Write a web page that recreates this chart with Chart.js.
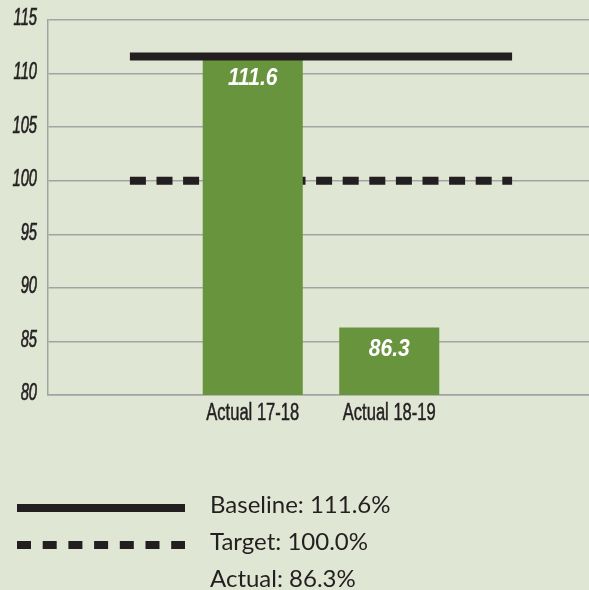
<!DOCTYPE html>
<html>
<head>
<meta charset="utf-8">
<script src="https://cdn.jsdelivr.net/npm/chart.js@4.4.0/dist/chart.umd.min.js"></script>
<style>
html, body { margin: 0; padding: 0; background: #dfe6d3; overflow: hidden; }
</style>
</head>
<body>
<canvas id="grafico" width="594" height="590"></canvas>
<script>
// datos
var categorias = ['', 'Actual 17-18', 'Actual 18-19', '']
var actual = [null, 111.6, 86.3, null]
var baseline = 111.6
var target = 100.0
var tramoLineas = [0.1, 2.9]
var ejeY = { min: 80, max: 115, paso: 5 }
var nombres = ['Baseline', 'Target', 'Actual']

var fuente = "'Liberation Sans', Arial, sans-serif"
var gris = '#a3a3a3'
var negro = '#231f20'

function puntos(valor)
{
    return tramoLineas.map(x => ({ x: x, y: valor }))
}

// texto angosto (no hay fuentes condensadas instaladas)
function textoAngosto(ctx, texto, x, y, factor, grosor)
{
    ctx.save()
    ctx.translate(x, y)
    ctx.scale(factor, 1)
    ctx.fillText(texto, 0, 0)
    if (grosor)
    {
        ctx.lineWidth = grosor
        ctx.strokeStyle = ctx.fillStyle
        ctx.strokeText(texto, 0, 0)
    }
    ctx.restore()
}

// etiquetas de ejes y de barras
var textos = {
    id: 'textos',
    afterDatasetsDraw: function(chart)
    {
        var ctx = chart.ctx
        var sy = chart.scales.y
        var sx = chart.scales.x
        ctx.save()
        ctx.fillStyle = negro
        ctx.textBaseline = 'middle'

        ctx.font = "italic 23px " + fuente
        ctx.textAlign = 'right'
        sy.ticks.forEach(t => textoAngosto(ctx, String(t.value), 37, sy.getPixelForValue(t.value) - 1, 0.64, 0.7))

        ctx.font = "23px " + fuente
        ctx.textAlign = 'center'
        categorias.forEach((c, i) =>
        {
            if (c) textoAngosto(ctx, c, sx.getPixelForValue(i), 414, 0.72, 0.5)
        })

        ctx.fillStyle = '#ffffff'
        ctx.font = "italic bold 24px " + fuente
        var meta = chart.getDatasetMeta(1)
        meta.data.forEach((barra, i) =>
        {
            var v = actual[i]
            if (v == null) return
            textoAngosto(ctx, v.toFixed(1), barra.x, barra.y + 22, 0.88, 0)
        })
        ctx.restore()
    }
}

// leyenda de abajo
var leyenda = {
    id: 'leyenda',
    afterDraw: function(chart)
    {
        var ctx = chart.ctx
        var ultimo = actual.filter(v => v != null).pop()
        var lineas = [
            nombres[0] + ': ' + baseline.toFixed(1) + '%',
            nombres[1] + ': ' + target.toFixed(1) + '%',
            nombres[2] + ': ' + ultimo.toFixed(1) + '%'
        ]
        ctx.save()
        ctx.strokeStyle = negro
        ctx.lineWidth = 8
        ctx.lineCap = 'butt'
        ctx.beginPath()
        ctx.moveTo(17, 508)
        ctx.lineTo(185, 508)
        ctx.stroke()
        ctx.setLineDash([14, 11.7])
        ctx.beginPath()
        ctx.moveTo(17, 545)
        ctx.lineTo(185, 545)
        ctx.stroke()
        ctx.setLineDash([])
        ctx.fillStyle = negro
        ctx.font = "24px Lato, sans-serif"
        ctx.textAlign = 'left'
        ctx.textBaseline = 'alphabetic'
        lineas.forEach((t, i) => ctx.fillText(t, 210, 513 + i * 37))
        ctx.restore()
    }
}

var grafico = new Chart(document.getElementById('grafico'),
    {
        type: 'bar',
        data:
            {
                labels: categorias,
                datasets:
                    [{
                        type: 'line',
                        label: nombres[0],
                        data: puntos(baseline),
                        xAxisID: 'x2',
                        borderColor: negro,
                        borderWidth: 8,
                        pointRadius: 0,
                        order: 0
                    },
                    {
                        label: nombres[2],
                        data: actual,
                        backgroundColor: '#68943e',
                        barPercentage: 0.733,
                        categoryPercentage: 1,
                        grouped: false,
                        order: 1
                    },
                    {
                        type: 'line',
                        label: nombres[1],
                        data: puntos(target),
                        xAxisID: 'x2',
                        borderColor: negro,
                        borderWidth: 8,
                        borderDash: [16, 10.6],
                        pointRadius: 0,
                        order: 2
                    }]
            },
        options:
            {
                responsive: false,
                animation: false,
                layout: { padding: { top: 20, left: 0, right: 0, bottom: 0 } },
                plugins:
                    {
                        legend: { display: false },
                        tooltip: { enabled: false }
                    },
                scales:
                    {
                        x:
                            {
                                grid: { display: false, drawTicks: false },
                                border: { color: gris, width: 1.5 },
                                ticks: { display: false },
                                afterFit: function(s) { s.height = 195 }
                            },
                        x2:
                            {
                                type: 'linear',
                                min: -0.5,
                                max: 3.5,
                                offset: false,
                                display: false
                            },
                        y:
                            {
                                min: ejeY.min,
                                max: ejeY.max,
                                ticks: { stepSize: ejeY.paso, display: false },
                                grid: { color: gris, lineWidth: 1.5, drawTicks: false },
                                border: { color: gris, width: 1.5 },
                                afterFit: function(s) { s.width = 48 }
                            }
                    }
            },
        plugins: [textos, leyenda]
    })
</script>
</body>
</html>
